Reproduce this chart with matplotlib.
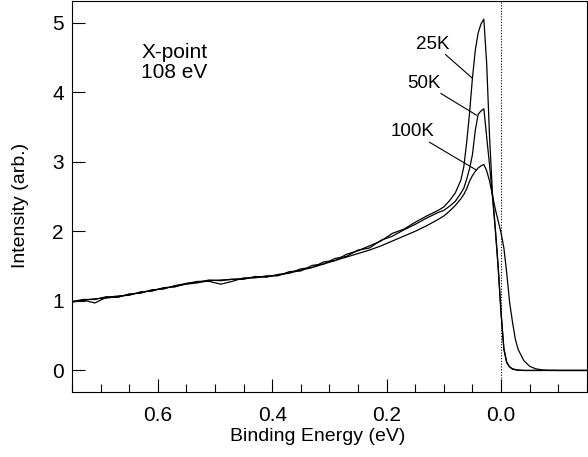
"""ARPES EDC at the X-point, three temperatures"""
import matplotlib
matplotlib.use('Agg')
import matplotlib.pyplot as plt
from matplotlib.ticker import MultipleLocator

plt.rcParams['font.family'] = ['Liberation Sans', 'DejaVu Sans']

#binding energy grid (eV), coarse in the background, fine near the peak
energy = [0.75, 0.73, 0.71, 0.69, 0.67, 0.65, 0.63, 0.61, 0.59, 0.57, 0.55,
          0.53, 0.51, 0.49, 0.47, 0.45, 0.43, 0.41, 0.39, 0.37, 0.35, 0.33,
          0.31, 0.29, 0.27, 0.25, 0.23, 0.21, 0.19, 0.17, 0.15, 0.13, 0.11,
          0.10, 0.09, 0.08, 0.07,
          0.065, 0.06, 0.055, 0.05, 0.045, 0.04, 0.035, 0.03, 0.025, 0.02,
          0.015, 0.01, 0.005, 0.0, -0.005, -0.01, -0.015, -0.02, -0.025, -0.03,
          -0.04, -0.05, -0.06, -0.07, -0.08, -0.10, -0.12, -0.15]

#intensities
int_25k = [0.99, 1.02, 1.02, 1.06, 1.05, 1.10, 1.11, 1.16, 1.17, 1.22, 1.25,
           1.27, 1.30, 1.29, 1.31, 1.31, 1.35, 1.34, 1.38, 1.40, 1.46, 1.48,
           1.56, 1.58, 1.67, 1.72, 1.79, 1.86, 1.97, 2.03, 2.13, 2.22, 2.30,
           2.35, 2.44, 2.55, 2.74,
           2.93, 3.28, 3.70, 4.20, 4.60, 4.85, 4.98, 5.05, 4.40, 3.35,
           2.55, 2.05, 1.50, 0.85, 0.32, 0.12, 0.05, 0.025, 0.012, 0.005,
           0.0, 0.0, 0.0, 0.0, 0.0, 0.0, 0.0, 0.0]
int_50k = [0.98, 1.01, 0.97, 1.05, 1.07, 1.08, 1.13, 1.14, 1.19, 1.20, 1.25,
           1.28, 1.28, 1.24, 1.28, 1.33, 1.33, 1.36, 1.36, 1.42, 1.43, 1.51,
           1.53, 1.61, 1.64, 1.73, 1.76, 1.87, 1.93, 2.02, 2.10, 2.19, 2.27,
           2.30, 2.36, 2.43, 2.55,
           2.62, 2.75, 2.90, 3.10, 3.45, 3.68, 3.73, 3.76, 3.35, 2.95,
           2.50, 2.02, 1.48, 0.82, 0.30, 0.11, 0.05, 0.02, 0.01, 0.004,
           0.0, 0.0, 0.0, 0.0, 0.0, 0.0, 0.0, 0.0]
int_100k = [0.99, 1.01, 1.03, 1.04, 1.06, 1.09, 1.12, 1.15, 1.18, 1.21, 1.24,
            1.26, 1.29, 1.30, 1.31, 1.32, 1.34, 1.35, 1.37, 1.40, 1.44, 1.48,
            1.53, 1.58, 1.63, 1.68, 1.73, 1.79, 1.86, 1.93, 2.00, 2.08, 2.17,
            2.22, 2.29, 2.37, 2.47,
            2.53, 2.61, 2.72, 2.80, 2.86, 2.91, 2.94, 2.96, 2.87, 2.72,
            2.52, 2.32, 2.15, 1.98, 1.76, 1.40, 0.98, 0.70, 0.45, 0.30,
            0.14, 0.06, 0.025, 0.01, 0.003, 0.0, 0.0, 0.0]

labels = ['25K', '50K', '100K']
#label centre, leader start, leader end (data coords)
label_pos = [(0.120, 4.68), (0.134, 4.13), (0.155, 3.43)]
leader_start = [(0.097, 4.54), (0.105, 3.98), (0.125, 3.28)]
leader_end = [(0.050, 4.20), (0.043, 3.67), (0.043, 2.88)]

fig = plt.figure(figsize=(5.88, 4.57), dpi=100)
ax = fig.add_axes([0.1224, 0.1422, 0.8756, 0.8556])

for series in (int_25k, int_50k, int_100k):
    ax.plot(energy, series, color='black', lw=0.9)

ax.axvline(0.0, color='black', lw=0.8, ls=(0, (1, 1.5)))

for text, pos, start, end in zip(labels, label_pos, leader_start, leader_end):
    ax.text(pos[0], pos[1], text, fontsize=13.5, ha='center', va='center')
    ax.plot([start[0], end[0]], [start[1], end[1]], color='black', lw=0.8)

ax.text(0.629, 4.71, 'X-point\n108 eV', fontsize=15, ha='left', va='top',
        linespacing=1.05)

ax.set_xlim(0.75, -0.15)
ax.set_ylim(-0.31, 5.31)
ax.xaxis.set_major_locator(MultipleLocator(0.2))
ax.xaxis.set_minor_locator(MultipleLocator(0.05))
ax.yaxis.set_major_locator(MultipleLocator(1))
ax.xaxis.set_major_formatter(plt.FuncFormatter(lambda v, p: f'{abs(v):.1f}' if abs(v) < 1e-9 else f'{v:.1f}'))
ax.tick_params(direction='in', which='major', length=9.5, width=0.8,
               labelsize=15)
ax.tick_params(axis='x', pad=10)
ax.tick_params(axis='y', pad=6)
ax.tick_params(direction='in', which='minor', length=6, width=0.8)
ax.tick_params(top=False, right=False, which='both')

ax.set_xlabel('Binding Energy (eV)', fontsize=14)
ax.set_ylabel('Intensity (arb.)', fontsize=14)
ax.xaxis.set_label_coords(0.478, -0.092)
ax.yaxis.set_label_coords(-0.084, 0.478)

fig.savefig('out.png', dpi=100)
